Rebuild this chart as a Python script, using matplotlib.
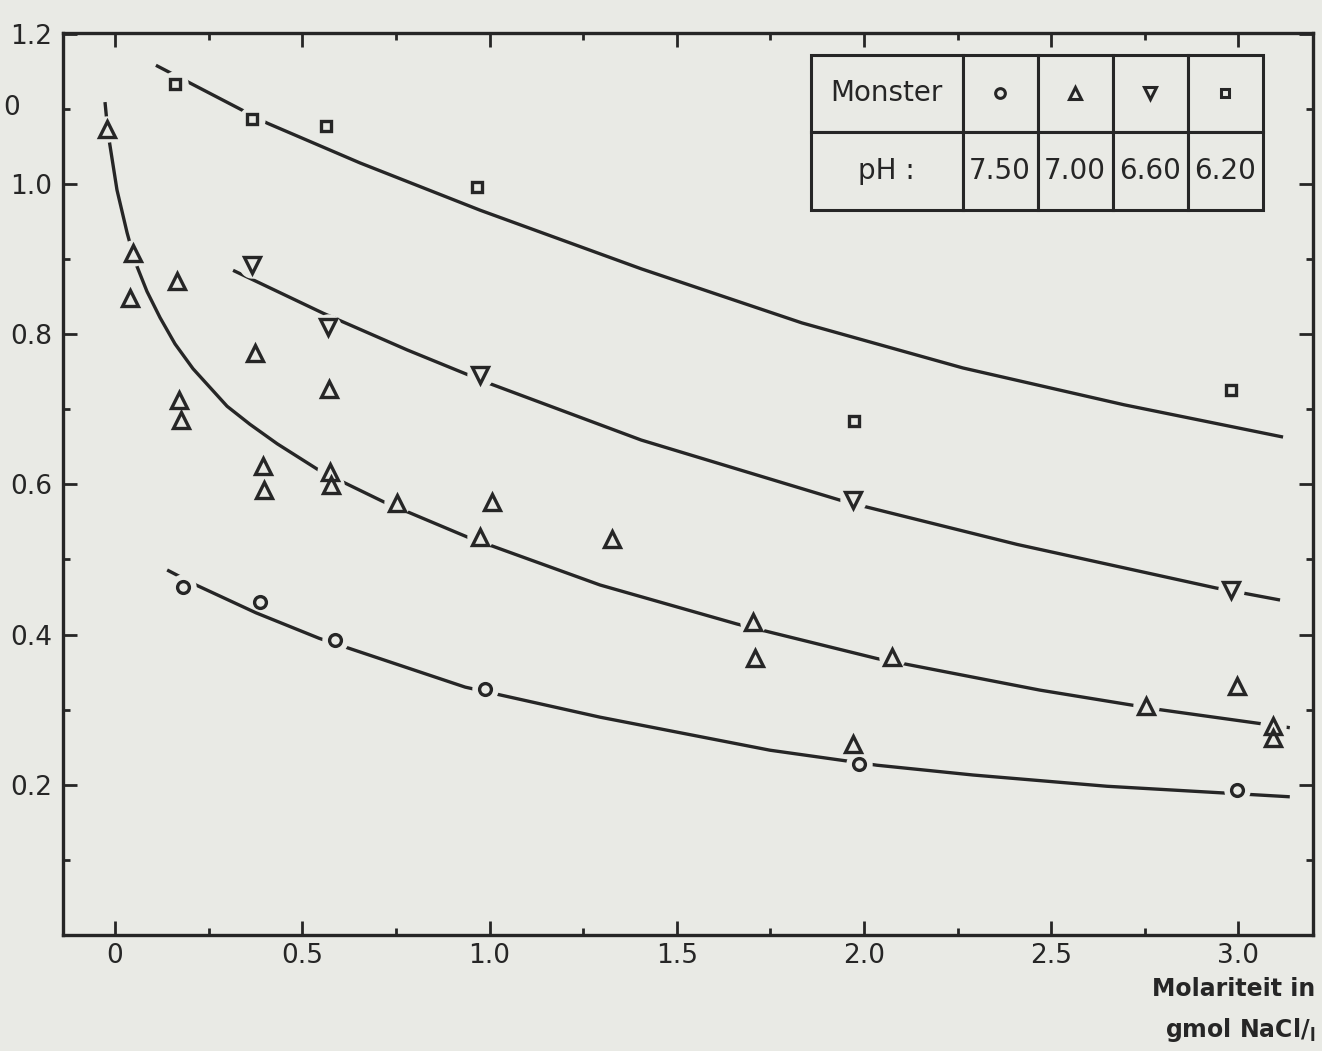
import matplotlib.pyplot as plt
import numpy as np
from matplotlib.ticker import MultipleLocator

# ---------------- data ----------------
# pH 6.20 (squares)
sq_x = [0.16, 0.366, 0.563, 0.967, 1.973, 2.98]
sq_y = [1.133, 1.087, 1.077, 0.996, 0.684, 0.726]
sq_on = [1, 1, 0, 0, 0, 0]
sq_cx = [0.109, 0.406, 0.654, 0.975, 1.405, 1.834, 2.264, 2.694, 3.119]
sq_cy = [1.158, 1.081, 1.028, 0.965, 0.887, 0.815, 0.755, 0.706, 0.663]

# pH 6.60 (triangles down)
dn_x = [0.366, 0.569, 0.975, 1.971, 2.98]
dn_y = [0.892, 0.81, 0.746, 0.579, 0.459]
dn_on = [1, 1, 1, 1, 1]
dn_cx = [0.315, 0.555, 0.78, 0.996, 1.405, 1.949, 2.409, 2.94, 3.111]
dn_cy = [0.885, 0.828, 0.779, 0.735, 0.659, 0.577, 0.520, 0.462, 0.446]

# pH 7.00 (triangles up)
up_x = [-0.021, 0.048, 0.040, 0.166, 0.374, 0.571, 0.171, 0.176, 0.395, 0.398,
        0.574, 0.577, 0.753, 1.007, 0.975, 1.327, 1.704, 1.709, 2.075, 2.753,
        2.996, 3.092, 3.092, 1.971]
up_y = [1.073, 0.908, 0.848, 0.871, 0.775, 0.727, 0.712, 0.686, 0.624, 0.593,
        0.617, 0.599, 0.575, 0.577, 0.530, 0.527, 0.417, 0.369, 0.370, 0.305,
        0.332, 0.278, 0.262, 0.254]
up_on = [1, 1, 0, 0, 0, 0, 0, 0, 0, 0,
         1, 1, 1, 0, 1, 0, 1, 0, 1, 1,
         0, 1, 0, 0]
up_cx = [-0.027, -0.019, 0.005, 0.032, 0.053, 0.085, 0.12, 0.16, 0.208, 0.299,
         0.36, 0.433, 0.547, 0.716, 0.94, 1.295, 1.661, 2.035, 2.47, 2.79, 3.137]
up_cy = [1.109, 1.068, 0.992, 0.935, 0.897, 0.857, 0.822, 0.787, 0.754, 0.704,
         0.680, 0.654, 0.618, 0.577, 0.530, 0.466, 0.414, 0.368, 0.326, 0.300, 0.276]

# pH 7.50 (circles)
ci_x = [0.182, 0.387, 0.587, 0.988, 1.987, 2.996]
ci_y = [0.463, 0.443, 0.393, 0.328, 0.228, 0.193]
ci_on = [1, 0, 1, 1, 1, 1]
ci_cx = [0.139, 0.216, 0.376, 0.545, 0.935, 1.295, 1.749, 2.035, 2.291, 2.649, 3.137]
ci_cy = [0.486, 0.466, 0.429, 0.395, 0.330, 0.290, 0.246, 0.226, 0.213, 0.198, 0.184]

x_ticks = [0, 0.5, 1.0, 1.5, 2.0, 2.5, 3.0]
x_labels = ['0', '0.5', '1.0', '1.5', '2.0', '2.5', '3.0']
y_ticks = [0.2, 0.4, 0.6, 0.8, 1.0, 1.2]
y_labels = ['0.2', '0.4', '0.6', '0.8', '1.0', '1.2']

table_rows = [['Monster', '', '', '', ''],
              ['pH :', '7.50', '7.00', '6.60', '6.20']]

# ---------------- style ----------------
ink = '#262626'
bg = '#e9eae5'
plt.rcParams['font.family'] = ['DejaVu Sans']

fig = plt.figure(figsize=(13.22, 10.51), dpi=100, facecolor=bg)
ax = fig.add_axes([0.0477, 0.1104, 0.9455, 0.8582], facecolor=bg)

series = [
    (sq_x, sq_y, sq_on, sq_cx, sq_cy, 's', 7.5),
    (dn_x, dn_y, dn_on, dn_cx, dn_cy, 'v', 11),
    (up_x, up_y, up_on, up_cx, up_cy, '^', 11),
    (ci_x, ci_y, ci_on, ci_cx, ci_cy, 'o', 8.5),
]
for x, y, on, cx, cy, mk, ms in series:
    ax.plot(cx, cy, color=ink, lw=2.4, zorder=2, solid_capstyle='butt',
            solid_joinstyle='round')
    x = np.array(x)
    y = np.array(y)
    on = np.array(on, dtype=bool)
    # white-out gaps where the drawn curve runs through a point
    ax.plot(x[on], y[on], ls='none', marker='o', ms=19, mfc=bg, mec='none', zorder=3)
    ax.plot(x, y, ls='none', marker=mk, ms=ms, mfc='none', mec=ink, mew=2.4, zorder=4)

ax.set_xlim(-0.139, 3.199)
ax.set_ylim(0, 1.201)

ax.set_xticks(x_ticks)
ax.set_xticklabels(x_labels)
ax.xaxis.set_minor_locator(MultipleLocator(0.25))
ax.set_yticks(y_ticks)
ax.set_yticklabels(y_labels)
ax.yaxis.set_minor_locator(MultipleLocator(0.1))

ax.tick_params(which='both', direction='in', top=True, right=True, color=ink,
               labelcolor=ink, labelsize=19)
ax.tick_params(which='major', length=10, width=2)
ax.tick_params(which='minor', length=5, width=2)
ax.tick_params(axis='x', pad=6)
ax.tick_params(axis='y', pad=8)
for s in ax.spines.values():
    s.set_color(ink)
    s.set_linewidth(2.4)

# legend table
col_w = [0.336, 0.166, 0.166, 0.166, 0.166]
tb_box = [0.598, 0.804, 0.362, 0.172]
tb = ax.table(cellText=table_rows, cellLoc='center', colWidths=col_w, bbox=tb_box)
tb.auto_set_font_size(False)
tb.set_fontsize(20)
tb.set_zorder(6)
for cell in tb.get_celld().values():
    cell.set_facecolor(bg)
    cell.set_edgecolor(ink)
    cell.set_linewidth(2.2)
    cell.get_text().set_color(ink)

w = np.array(col_w) / sum(col_w) * tb_box[2]
centers = tb_box[0] + np.cumsum(w) - w / 2
y_head = tb_box[1] + tb_box[3] * 0.75
for cxp, (mk, ms) in zip(centers[1:], [('o', 7), ('^', 9), ('v', 9), ('s', 6)]):
    ax.plot([cxp], [y_head], transform=ax.transAxes, ls='none', marker=mk, ms=ms,
            mfc='none', mec=ink, mew=2.2, zorder=7, clip_on=False)

fig.text(0.9947, 1 - 989 / 1051, 'Molariteit in', ha='right', va='center',
         fontsize=17, fontweight='bold', color=ink)
fig.text(0.9947, 1 - 1030 / 1051, r'gmol NaCl/$_{\mathregular{l}}$', ha='right',
         va='center', fontsize=17, fontweight='bold', color=ink)
# stray, partly cut label at the left edge of the scan
fig.text(20 / 1322, 1 - 108 / 1051, '0', ha='right', va='center', fontsize=19, color=ink)

fig.savefig('out.png', dpi=100, facecolor=bg)
